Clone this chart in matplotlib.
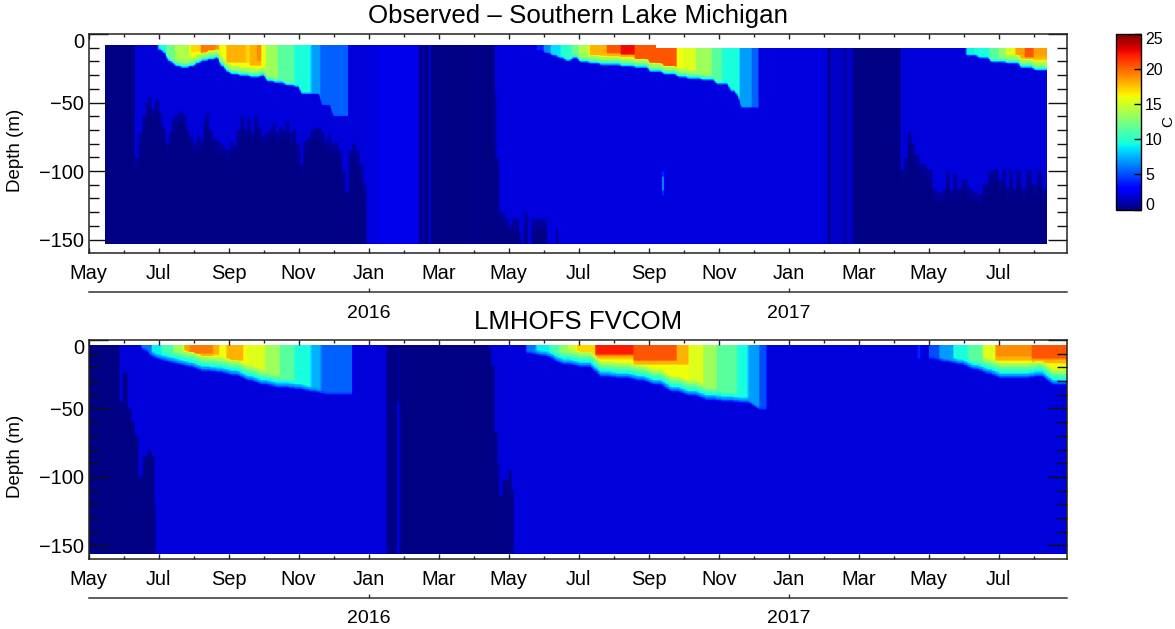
import numpy as np
import matplotlib
matplotlib.use("Agg")
import matplotlib.pyplot as plt
from matplotlib.transforms import Affine2D

plt.rcParams['font.family'] = ['Liberation Sans', 'DejaVu Sans']

# x axis is months since May 2015
month_ticks = list(range(0, 28, 2))
month_labels = ['May', 'Jul', 'Sep', 'Nov', 'Jan', 'Mar', 'May', 'Jul', 'Sep', 'Nov', 'Jan', 'Mar', 'May', 'Jul']
year_ticks = [8, 20]
year_labels = ['2016', '2017']
depth_ticks = [-150, -100, -50, 0]
cbar_ticks = [0, 5, 10, 15, 20, 25]

# Observed: steps, each value holds from its start month to the next one
obs_span = [0.46, 27.37]
obs_bottom = 153.5
obs_top_t = [0.46, 16.2]
obs_top = [8.2, 10.2]

obs_bg_t = [0.46, 1.32, 8.0, 8.3, 9.44, 9.55, 9.61, 9.72, 9.79, 11.0, 11.05, 11.6, 21.13, 21.21, 21.58, 21.64, 21.85, 23.19]
obs_bg = [0.1, 2.0, 2.1, 2.4, 0.1, 1.0, 0.3, 2.0, 0.1, 0.8, 0.1, 2.1, 0.1, 1.6, 0.1, 1.6, 0.1, 2.0]

obs_deep_t = [1.32, 1.45, 1.55, 1.65, 1.72, 1.8, 1.88, 1.95, 2.02, 2.1, 2.2, 2.3, 2.38, 2.46, 2.55, 2.62, 2.7, 2.8, 2.9, 3.0,
              3.1, 3.2, 3.3, 3.37, 3.45, 3.55, 3.65, 3.75, 3.85, 3.95, 4.05, 4.15, 4.25, 4.35, 4.45, 4.55, 4.65, 4.75, 4.85, 4.95,
              5.05, 5.15, 5.25, 5.35, 5.45, 5.55, 5.65, 5.75, 5.85, 5.95, 6.05, 6.15, 6.25, 6.35, 6.45, 6.55, 6.65, 6.75, 6.85, 6.95,
              7.05, 7.15, 7.25, 7.35, 7.45, 7.55, 7.65, 7.75, 7.85, 7.95,
              11.6, 11.65, 11.72, 11.9, 12.0, 12.1, 12.3, 12.36, 12.45, 12.55, 12.67, 13.1, 13.36, 13.42,
              23.19, 23.3, 23.4, 23.5, 23.6, 23.75, 23.95, 24.1, 24.25, 24.4, 24.5, 24.6, 24.7, 24.8, 24.95, 25.1, 25.25, 25.4, 25.55, 25.7,
              25.85, 26.0, 26.1, 26.2, 26.3, 26.4, 26.5, 26.65, 26.8, 26.95, 27.1, 27.25]
obs_deep = [90, 72, 60, 50, 46, 55, 50, 48, 58, 68, 80, 72, 62, 60, 58, 56, 60, 70, 76, 80,
            74, 78, 62, 58, 70, 76, 78, 80, 83, 85, 78, 82, 70, 60, 70, 62, 73, 60, 68, 75,
            72, 70, 66, 72, 68, 70, 64, 72, 70, 80, 95, 78, 76, 70, 69, 68, 72, 78, 74, 80,
            79, 85, 100, 115, 85, 80, 85, 95, 110, 999,
            43, 90, 130, 135, 140, 135, 145, 999, 130, 999, 135, 999, 142, 999,
            99, 90, 72, 80, 88, 95, 99, 113, 116, 113, 100, 114, 102, 113, 106, 112, 115, 117, 110, 100,
            99, 107, 99, 112, 99, 113, 100, 113, 99, 110, 100, 113]

obs_surf_t = [1.99, 2.23, 2.46, 2.9, 3.2, 3.65, 3.75, 3.95, 4.5, 4.6, 4.8, 4.95, 5.07, 5.4, 5.89, 6.37, 6.63,
              12.79, 13.0, 13.2, 13.5, 13.8, 14.0, 14.3, 14.8, 15.2, 15.6, 16.8, 17.0, 17.35, 17.8, 18.1, 18.6, 18.95,
              25.07, 25.3, 25.75, 26.0, 26.2, 26.47, 26.75, 27.0]
obs_surf = [9.5, 12, 14, 17, 19.5, 18.5, 16, 18, 17, 18, 19, 16, 13.5, 11.5, 9.5, 7, 5.5,
            4, 6.5, 8.5, 10, 12, 14, 18, 20.5, 22.5, 20.5, 18, 15.5, 13.5, 11.5, 9.5, 7, 5.5,
            9, 9.5, 11.5, 13, 15.5, 18.5, 20.5, 18.5]

obs_cap_t = [1.99, 2.9, 3.2, 3.75, 3.95, 4.6, 4.95, 14.3, 14.8, 15.2, 15.6, 16.2, 16.8, 26.47, 26.75, 27.0]
obs_cap = [0, 10, 14, 16, 18, 20, 0, 13, 14, 15, 21, 26, 0, 15, 17, 16]

obs_mld_t = [1.99, 2.1, 2.23, 2.35, 2.46, 2.65, 2.85, 3.05, 3.2, 3.4, 3.6, 3.75, 3.9, 4.05, 4.3, 4.6, 4.9, 5.07, 5.3, 5.6,
             5.89, 6.05, 6.37, 6.63, 6.95, 7.42,
             12.79, 13.0, 13.2, 13.4, 13.6, 13.8, 14.0, 14.3, 14.6, 14.9, 15.2, 15.6, 16.0, 16.4, 16.8, 17.1, 17.5, 17.9, 18.3, 18.5,
             18.6, 19.15,
             25.07, 25.4, 25.75, 26.2, 26.6, 27.0]
obs_mld = [12, 14, 20, 22, 24, 25, 24, 22, 20, 19, 18, 24, 28, 30, 31, 32, 31, 35, 36, 38,
           39, 44, 44, 52, 60, 0,
           12, 14, 16, 18, 20, 18, 21, 22, 23, 23, 24, 25, 28, 30, 32, 33, 34, 37, 42, 46,
           54, 0,
           16, 18, 21, 22, 25, 27]

# start month, end month, top depth, bottom depth, temperature
obs_spot = [(16.39, 16.45, 100, 118, 5), (16.41, 16.43, 104, 114, 12)]

# LMHOFS FVCOM
mod_span = [0.0, 27.95]
mod_bottom = 156
mod_top_t = [0.0]
mod_top = [4.0]

mod_bg_t = [0.0, 0.875, 8.52, 8.9, 11.41]
mod_bg = [0.1, 2.0, 0.1, 0.1, 2.0]

mod_deep_t = [0.875, 0.99, 1.13, 1.23, 1.32, 1.42, 1.56, 1.7, 1.8, 1.89, 1.92,
              11.41, 11.5, 11.6, 11.68, 11.72, 11.85, 12.0, 12.09, 12.14]
mod_deep = [45, 24, 50, 60, 70, 100, 85, 81, 85, 120, 999,
            5, 19, 68, 90, 114, 102, 95, 110, 999]

mod_surf_t = [1.51, 1.8, 2.1, 2.42, 2.7, 2.75, 2.9, 3.56, 3.75, 3.95, 4.42, 4.56, 5.04, 5.46, 5.89, 6.37, 6.65,
              12.5, 12.79, 13.17, 13.45, 13.7, 13.95, 14.48, 15.57, 16.8, 17.14, 17.57, 17.95, 18.52, 18.85, 19.17,
              23.67, 24.0, 24.3, 24.69, 25.12, 25.55, 25.9, 26.95]
mod_surf = [6, 9, 11, 13.5, 16, 18.5, 19.5, 18, 16, 18, 17, 15.5, 13.5, 11.5, 9.5, 7.5, 5.5,
            6, 9, 11, 13, 15, 17, 22, 20.5, 18, 15.5, 13.5, 11.5, 9.5, 7, 5,
            4, 5, 7, 9.5, 11.5, 15.5, 19, 20.5]

mod_cap_t = [1.51, 2.75, 2.9, 3.56, 3.75, 3.95, 4.42, 13.95, 14.48, 15.57, 17.14, 25.9, 26.95]
mod_cap = [0, 9, 10, 8, 0, 12, 0, 8, 11, 15, 0, 12, 14]

mod_mld_t = [1.51, 1.65, 1.8, 2.1, 2.42, 2.75, 3.1, 3.56, 3.95, 4.4, 4.8, 5.25, 5.8, 6.2, 6.65, 7.55,
             12.5, 12.8, 13.2, 13.43, 13.9, 14.48, 15.0, 15.57, 16.0, 16.5, 17.0, 17.5, 18.0, 18.5, 19.0, 19.38,
             23.67, 23.76, 24.0, 24.3, 24.69, 25.12, 25.55, 25.9, 26.95, 27.4]
mod_mld = [6, 10, 14, 16, 18, 20, 23, 24, 26, 30, 33, 35, 36, 38, 40, 0,
           10, 12, 15, 18, 20, 27, 28, 30, 33, 38, 41, 44, 45, 46, 51, 0,
           14, 0, 14, 16, 18, 22, 25, 28, 27, 33]

mod_spot = [(8.8, 8.9, 46, 156, 2.0), (8.8, 8.9, 4, 46, 0.6)]

# below the warm cap the layer falls off in steps: metres above its bottom, temperature
obs_bands = [(6.5, 13.5), (3.5, 11), (1.8, 9), (1.0, 7), (0.5, 4.5)]
mod_bands = [(11, 13.5), (8.5, 11.5), (6, 9.5), (3.5, 7), (1.5, 4.5)]


def steps(starts, values, t, before):
    idx = np.searchsorted(starts, t, side='right') - 1
    out = np.array(values, dtype=float)[np.maximum(idx, 0)]
    out[idx < 0] = before
    return out


def soften_layer(col, cells):
    # take the stairs out of the layer bottom, the ends of a warm block stay sharp
    on = (col > 0).astype(float)
    kernel = np.ones(cells)
    total = np.convolve(col * on, kernel, mode='same')
    count = np.convolve(on, kernel, mode='same')
    return np.where(col > 0, total / np.maximum(count, 1), 0)


def blur(grid):
    # the source picture is a little soft
    ok = ~np.isnan(grid)
    vals = np.where(ok, grid, 0.0)
    wt = ok.astype(float)
    for axis, n in [(0, 3), (1, 3)]:
        k = np.ones(n) / n
        vals = np.apply_along_axis(np.convolve, axis, vals, k, mode='same')
        wt = np.apply_along_axis(np.convolve, axis, wt, k, mode='same')
    out = vals / np.maximum(wt, 1e-6)
    out[~ok] = np.nan
    return out


def build_grid(t, z, span, bottom, top_t, top, bg_t, bg, deep_t, deep, surf_t, surf, cap_t, cap, mld_t, mld,
               bands, spots, gap, cells):
    col_bg = steps(bg_t, bg, t, bg[0])
    col_deep = steps(deep_t, deep, t, 999)
    col_surf = steps(surf_t, surf, t, 2.0)
    col_cap = steps(cap_t, cap, t, 0)
    col_mld = soften_layer(steps(mld_t, mld, t, 0), cells)
    col_top = steps(top_t, top, t, top[0])
    grid = np.tile(col_bg[:, None], (1, len(z)))
    for i in range(len(t)):
        if gap > 0:
            grid[i, z > col_deep[i]] = np.minimum(col_bg[i], 0.5)
        grid[i, z > col_deep[i] + gap] = 0.1
        if col_mld[i] > 0:
            grid[i, z <= col_mld[i]] = col_surf[i]
            below = (z > col_cap[i]) & (z <= col_mld[i])
            grid[i, below] = np.minimum(grid[i, below], 16)
            near = (z > col_cap[i]) & (z <= col_cap[i] + 3) & (z <= col_mld[i])
            grid[i, near] = np.minimum(col_surf[i], 18)
            for above, temp in bands:
                layer = (z > col_mld[i] - above) & (z <= col_mld[i])
                grid[i, layer] = np.minimum(grid[i, layer], temp)
    for t0, t1, d0, d1, temp in spots:
        grid[np.ix_((t >= t0) & (t < t1), (z >= d0) & (z < d1))] = temp
    grid[(t < span[0]) | (t > span[1]), :] = np.nan
    for i in range(len(t)):
        grid[i, (z < col_top[i]) | (z > bottom)] = np.nan
    return blur(grid)


t_edges = np.arange(0, 27.96, 0.02)
z_edges = np.arange(0, 160.5, 0.5)
t_mid = (t_edges[:-1] + t_edges[1:]) / 2
z_mid = (z_edges[:-1] + z_edges[1:]) / 2

obs_grid = build_grid(t_mid, z_mid, obs_span, obs_bottom, obs_top_t, obs_top, obs_bg_t, obs_bg, obs_deep_t, obs_deep,
                      obs_surf_t, obs_surf, obs_cap_t, obs_cap, obs_mld_t, obs_mld, obs_bands, obs_spot, 8, 5)
mod_grid = build_grid(t_mid, z_mid, mod_span, mod_bottom, mod_top_t, mod_top, mod_bg_t, mod_bg, mod_deep_t, mod_deep,
                      mod_surf_t, mod_surf, mod_cap_t, mod_cap, mod_mld_t, mod_mld, mod_bands, mod_spot, 0, 15)

W, H = 1175, 629
fig = plt.figure(figsize=(W / 100, H / 100), dpi=100)
ax1 = fig.add_axes([88.5 / W, 1 - 253.3 / H, 978.5 / W, 219.3 / H])
ax2 = fig.add_axes([88.5 / W, 1 - 559 / H, 978.5 / W, 219 / H])
cax = fig.add_axes([1116 / W, 1 - 209.5 / H, 25 / W, 175.5 / H])


def nudge(label, dy):
    # end labels sit inside the axis range in the source
    label.set_transform(label.get_transform() + Affine2D().translate(0, dy))


for ax, grid, title in [(ax1, obs_grid, 'Observed \u2013 Southern Lake Michigan'), (ax2, mod_grid, 'LMHOFS FVCOM')]:
    mesh = ax.pcolormesh(t_edges, -z_edges, grid.T, cmap='jet', vmin=0, vmax=25, shading='flat', rasterized=True)
    ax.set_xlim(0, 27.95)
    ax.set_ylim(-160, 0)
    ax.set_xticks(month_ticks)
    ax.set_xticklabels(month_labels)
    ax.set_xticks(np.arange(1, 28, 2), minor=True)
    ax.set_yticks(depth_ticks)
    ax.set_yticks(np.arange(-150, 1, 10), minor=True)
    ax.tick_params(axis='x', which='major', direction='in', top=True, length=3.6, width=1, labelsize=14.4, pad=8, color='#222222')
    ax.tick_params(axis='x', which='minor', direction='in', top=True, length=2.2, width=1, color='#222222')
    ax.tick_params(axis='y', which='major', direction='in', right=True, length=13.7, width=1, labelsize=14.4, pad=3, color='#111111')
    ax.tick_params(axis='y', which='minor', direction='in', right=True, length=7.2, width=1, color='#111111')
    nudge(ax.get_yticklabels()[-1], -6)
    ax.set_ylabel('Depth (m)', fontsize=13.5, labelpad=11, y=0.47)
    ax.set_title(title, fontsize=18.6, pad=8)
    for s in ax.spines.values():
        s.set_linewidth(1.1)
        s.set_color('#222222')
    year_ax = ax.secondary_xaxis(-0.177)
    year_ax.set_xticks(year_ticks)
    year_ax.set_xticklabels(year_labels)
    year_ax.tick_params(axis='x', direction='in', length=3, width=1, labelsize=14, pad=9, color='#333333')
    year_ax.spines['bottom'].set_linewidth(1.1)
    year_ax.spines['bottom'].set_color('#333333')

cb = fig.colorbar(mesh, cax=cax)
cb.set_ticks(cbar_ticks)
cb.ax.tick_params(direction='in', length=5, width=1, labelsize=11.5, pad=3)
cb.outline.set_linewidth(1)
nudge(cb.ax.get_yticklabels()[0], 5)
nudge(cb.ax.get_yticklabels()[-1], -4)
cb.set_label('C', fontsize=11, labelpad=-1)

fig.savefig('out.png', dpi=100)
